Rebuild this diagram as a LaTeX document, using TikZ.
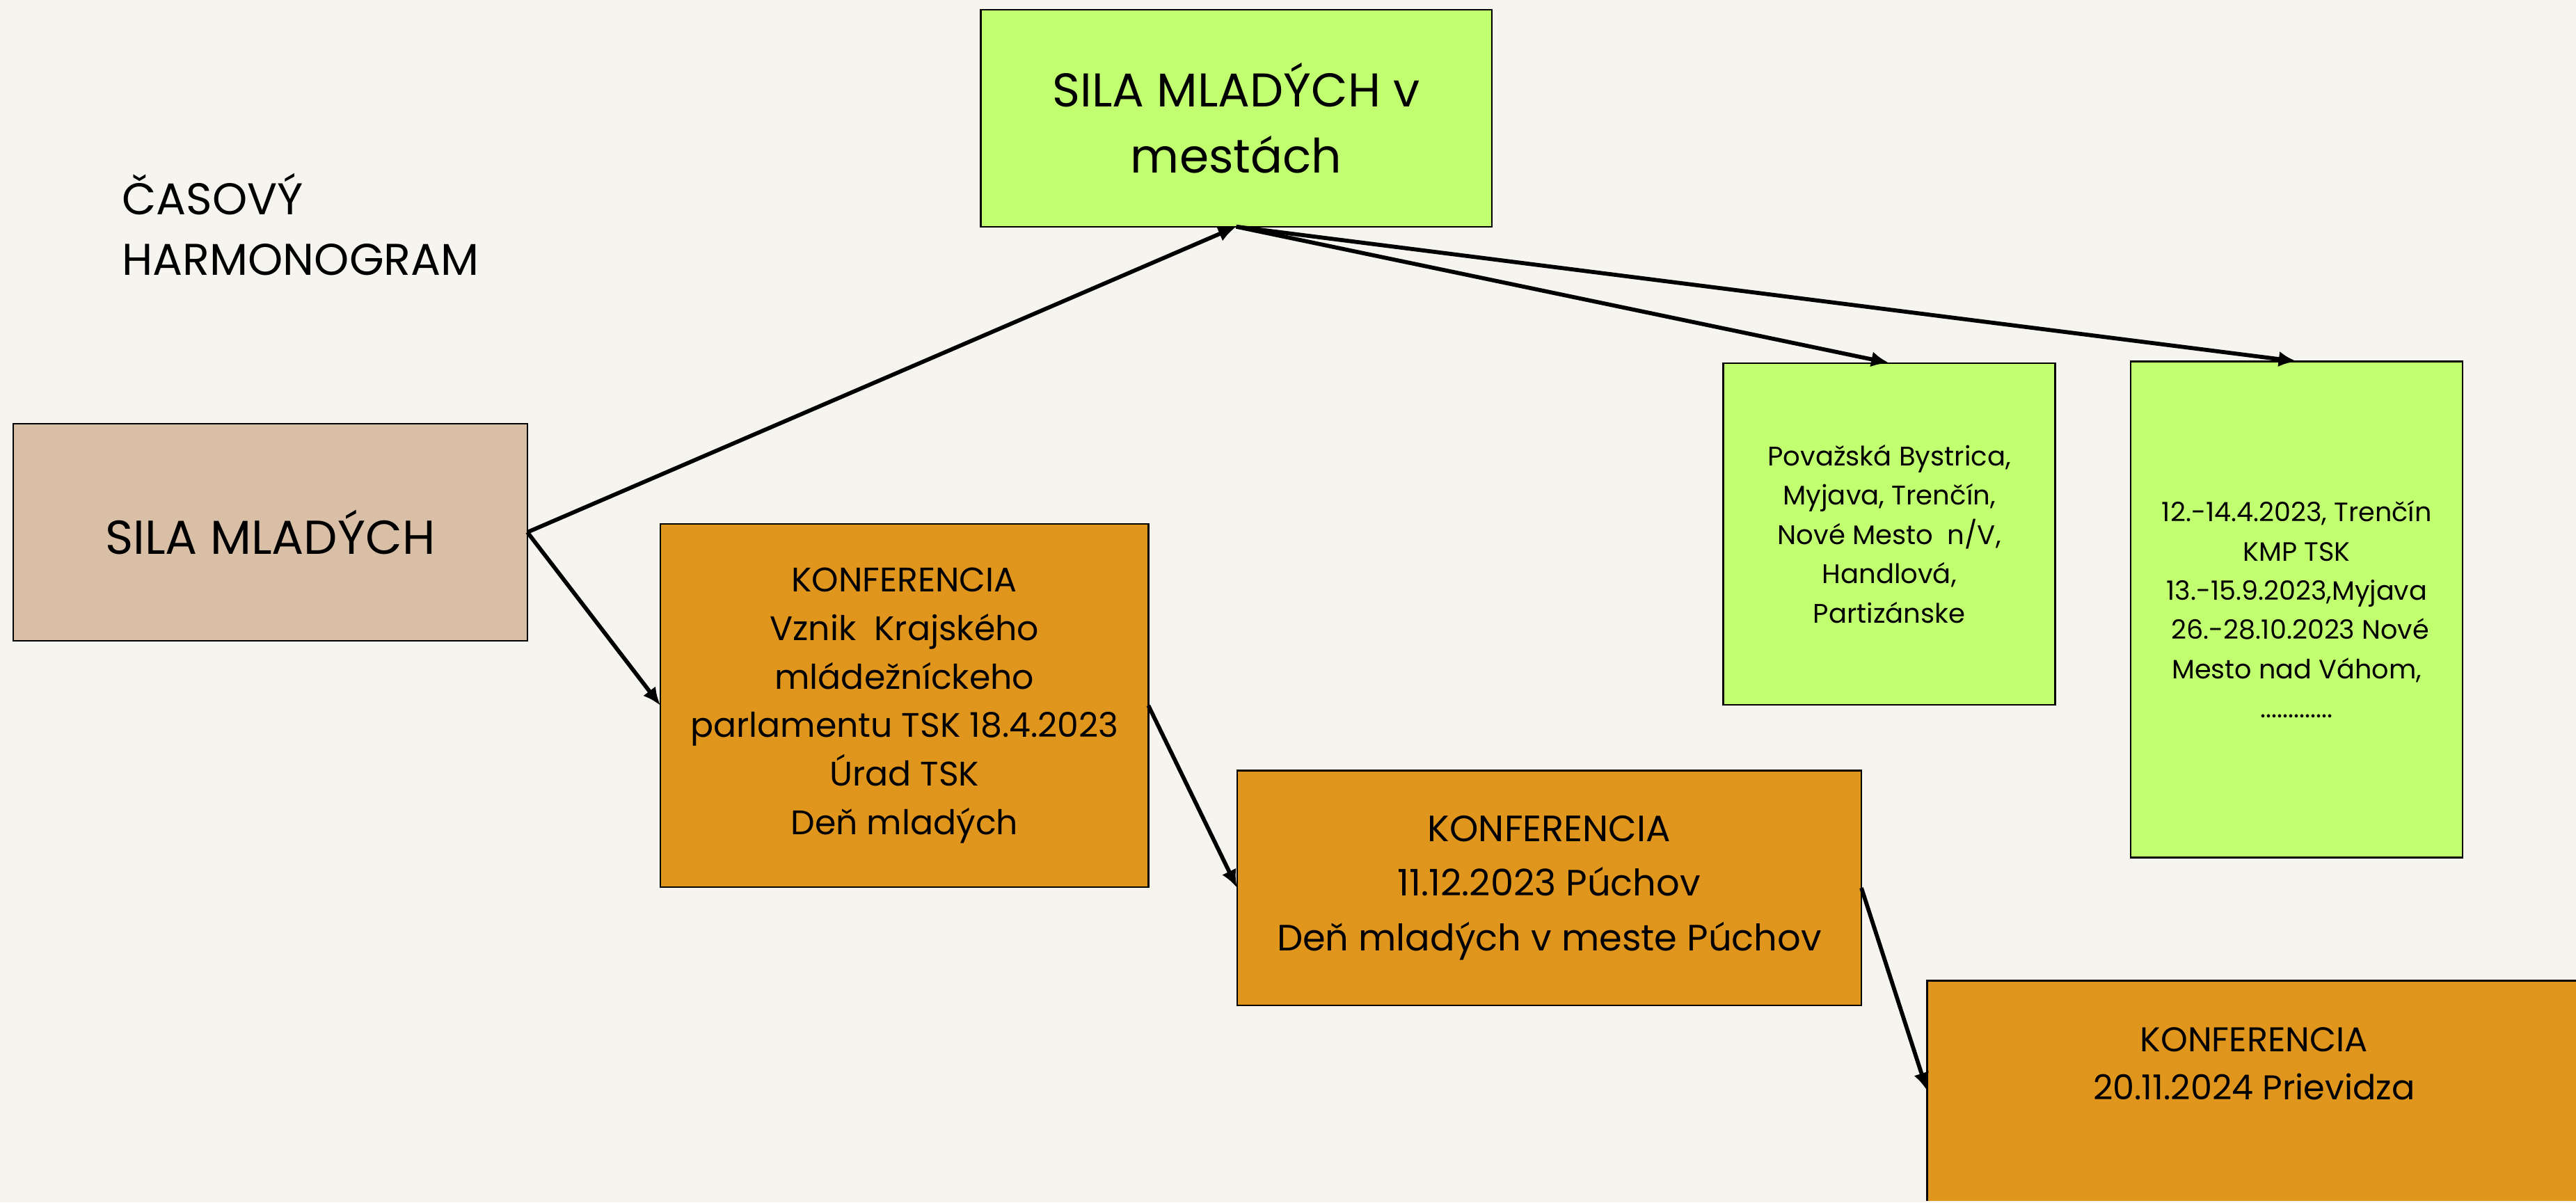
\documentclass[tikz,border=0pt]{standalone}
\usepackage{fontspec}
\setmainfont{Poppins}
\usepackage{tikz}
\usepackage{xcolor}
\usetikzlibrary{arrows.meta}
\definecolor{paperCol}{HTML}{F6F4EF}
\definecolor{silaCol}{HTML}{D8BFA6}
\definecolor{mestoCol}{HTML}{C2FF70}
\definecolor{konfCol}{HTML}{E0961D}

\begin{document}
\begin{tikzpicture}[
  box/.style={draw=black, line width=0.6pt, inner sep=0pt, outer sep=0pt, align=center, text=black},
  link/.style={line width=1.4pt, -{Latex[length=2.2mm,width=1.9mm]}}
]
%--------------------------------------------------

% paper background, also the frame of the picture
\clip (0,0) rectangle (31.36,14.64);
\fill [paperCol](0,0) rectangle (31.36,14.64);

% title in the upper left corner
\node[anchor=west, align=left, inner sep=0pt, font=\fontsize{15.4}{21}\selectfont] (title) at (1.48,11.91) {ČASOVÝ\\HARMONOGRAM};

% main box and the cities box
\node[box, fill=silaCol, minimum width=6.26cm, minimum height=2.64cm, font=\fontsize{16.5}{22.8}\selectfont] (sila) at (3.29,8.16) {SILA MLADÝCH};
\node[box, fill=mestoCol, minimum width=6.22cm, minimum height=2.64cm, font=\fontsize{16.4}{22.8}\selectfont] (mesta) at (15.05,13.2) {SILA MLADÝCH v\\mestách};

% the two lists of cities
\node[box, fill=mestoCol, minimum width=4.04cm, minimum height=4.16cm, font=\fontsize{9.3}{13.6}\selectfont] (mestaA) at (23.0,8.14) {Považská Bystrica,\\Myjava, Trenčín,\\Nové Mesto~ n/V,\\Handlová,\\Partizánske};
\node[box, fill=mestoCol, minimum width=4.04cm, minimum height=6.04cm, font=\fontsize{9.2}{13.6}\selectfont] (mestaB) at (27.96,7.22) {12.-14.4.2023, Trenčín\\KMP TSK\\13.-15.9.2023,Myjava\\~26.-28.10.2023 Nové\\Mesto nad Váhom,\\.............};

% now the conferences
\node[box, fill=konfCol, minimum width=5.94cm, minimum height=4.42cm, font=\fontsize{11.8}{16.8}\selectfont] (konfA) at (11.01,6.05) {KONFERENCIA\\Vznik~ Krajského\\mládežníckeho\\parlamentu TSK 18.4.2023\\Úrad TSK\\Deň mladých};
\node[box, fill=konfCol, minimum width=7.6cm, minimum height=2.86cm, font=\fontsize{12.7}{19}\selectfont] (konfB) at (18.86,3.83) {KONFERENCIA\\11.12.2023 Púchov\\Deň mladých v meste Púchov};
\node[box, draw=none, fill=konfCol, minimum width=8.4cm, minimum height=2.68cm] (konfC) at (27.66,1.36) {};
\draw [line width=0.9pt](konfC.south west) |- (konfC.north east);
\node[align=center, font=\fontsize{11.9}{16.5}\selectfont] (konfCtext) at (27.44,1.69) {KONFERENCIA\\20.11.2024 Prievidza};

% arrows between the boxes
\draw [link](sila.east) -- (mesta.south);
\draw [link](sila.east) -- (konfA.west);
\draw [link](mesta.south) -- (mestaA.north);
\draw [link](mesta.south) -- (mestaB.north);
\draw [link](konfA.east) -- (konfB.west);
\draw [link](konfB.east) -- (konfC.west);

%--------------------------------------------------
\end{tikzpicture}
\end{document}
